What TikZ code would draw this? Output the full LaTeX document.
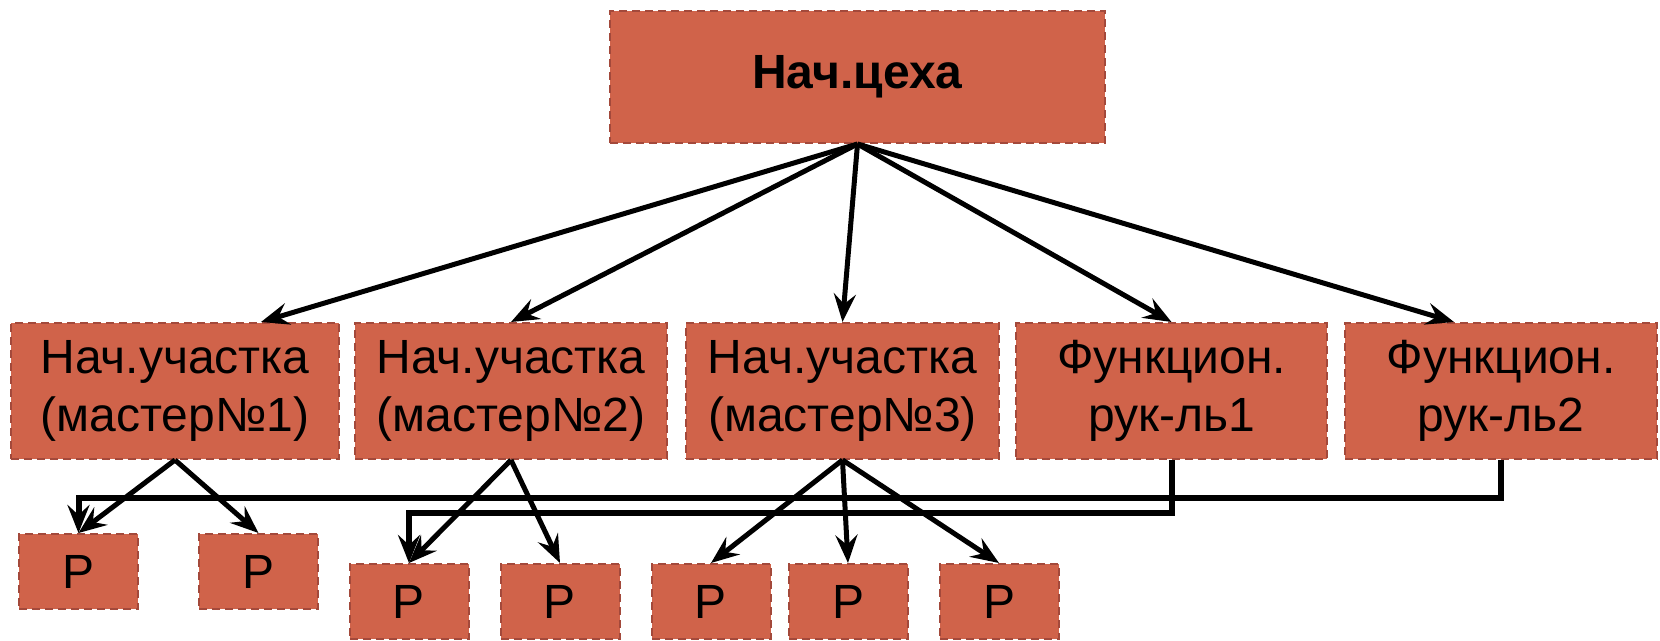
\documentclass[tikz,border=0pt]{standalone}
\usepackage{fontspec}
\setmainfont{Liberation Sans}
\usetikzlibrary{arrows.meta}

\definecolor{boxfill}{HTML}{D0634A}
\definecolor{boxline}{HTML}{A3493B}

\begin{document}
\begin{tikzpicture}[
    x=0.5pt, y=-0.5pt,
    font=\fontsize{24}{29}\selectfont,
    unit/.style={draw=boxline, line width=1pt, dash pattern=on 4pt off 2.5pt, fill=boxfill, inner sep=0pt, align=center},
    head/.style={unit, minimum width=247.5pt, minimum height=66pt, font=\fontsize{24}{28}\selectfont\bfseries},
    mid/.style={unit, minimum height=68pt},
    worker/.style={unit, minimum width=59.5pt, minimum height=37.5pt},
    arr/.style={-{Stealth[length=14pt, width=11pt, inset=5pt]}, line width=2.5pt},
    feed/.style={arr, line width=3pt},
  ]
    \useasboundingbox (0,0) rectangle (1660,641);

    \node[head] (chief) at (857.5,77) {Нач.цеха};

    % section heads and functional managers
    \node[mid, minimum width=164pt] (m1) at (175,391) {Нач.участка\\(мастер№1)};
    \node[mid, minimum width=156pt] (m2) at (511,391) {Нач.участка\\(мастер№2)};
    \node[mid, minimum width=156.5pt] (m3) at (842.5,391) {Нач.участка\\(мастер№3)};
    \node[mid, minimum width=155.5pt] (f1) at (1171.5,391) {Функцион.\\рук-ль1};
    \node[mid, minimum width=156pt] (f2) at (1501,391) {Функцион.\\рук-ль2};

    % workers
    \node[worker] (p1) at (78.5,571.5) {Р};
    \node[worker] (p2) at (258.5,571.5) {Р};
    \node[worker] (p3) at (409,601.5) {Р};
    \node[worker] (p4) at (560,601.5) {Р};
    \node[worker] (p5) at (711,601.5) {Р};
    \node[worker] (p6) at (848,601.5) {Р};
    \node[worker] (p7) at (999,601.5) {Р};

    \draw[arr] (chief.south) -- ([xshift=43pt]m1.north);
    \draw[arr] (chief.south) -- (m2.north);
    \draw[arr] (chief.south) -- (m3.north);
    \draw[arr] (chief.south) -- (f1.north);
    \draw[arr] (chief.south) -- ([xshift=-23.5pt]f2.north);

    \draw[arr] (m1.south) -- (p1.north);
    \draw[arr] (m1.south) -- (p2.north);
    \draw[arr] (m2.south) -- (p3.north);
    \draw[arr] (m2.south) -- (p4.north);
    \draw[arr] (m3.south) -- (p5.north);
    \draw[arr] (m3.south) -- (p6.north);
    \draw[arr] (m3.south) -- (p7.north);

    % functional lines run under the section heads
    \draw[feed] (f2.south) -- ++(0,38) -| (p1.north);
    \draw[feed] (f1.south) -- ++(0,53) -| (p3.north);
  \end{tikzpicture}
\end{document}
